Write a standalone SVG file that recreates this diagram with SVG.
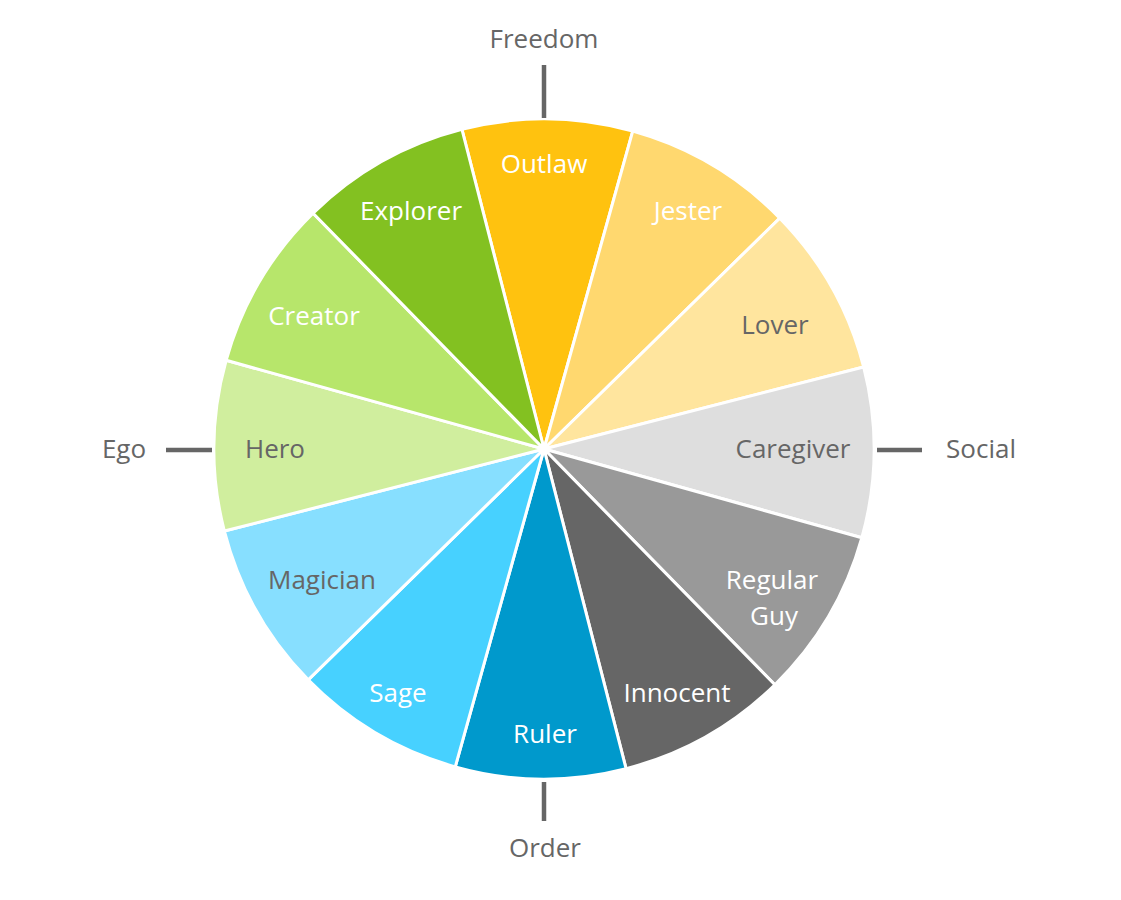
<svg xmlns="http://www.w3.org/2000/svg" width="1121" height="900" viewBox="0 0 1121 900">
<style>
  .w { stroke: #ffffff; stroke-width: 3; stroke-linejoin: round; }
  .t { font-family: "Open Sans", "Noto Sans", sans-serif; font-size: 26px; text-anchor: middle; }
  .lt { fill: #ffffff; }
  .dk { fill: #666666; }
  .tick { stroke: #666666; stroke-width: 4.5; }
</style>
<rect width="1121" height="900" fill="#ffffff"/>
<g id="wheel" transform="rotate(0.6 544 449)">
  <g id="outlaw"><path class="w" fill="#FFC20F" d="M544 449 L458.59 130.24 A330 330 0 0 1 629.41 130.24 Z"/></g>
  <g id="jester"><path class="w" fill="#FFD86F" d="M544 449 L629.41 130.24 A330 330 0 0 1 777.35 215.65 Z"/></g>
  <g id="lover"><path class="w" fill="#FFE59E" d="M544 449 L777.35 215.65 A330 330 0 0 1 862.76 363.59 Z"/></g>
  <g id="caregiver"><path class="w" fill="#DEDEDE" d="M544 449 L862.76 363.59 A330 330 0 0 1 862.76 534.41 Z"/></g>
  <g id="regularguy"><path class="w" fill="#999999" d="M544 449 L862.76 534.41 A330 330 0 0 1 777.35 682.35 Z"/></g>
  <g id="innocent"><path class="w" fill="#666666" d="M544 449 L777.35 682.35 A330 330 0 0 1 629.41 767.76 Z"/></g>
  <g id="ruler"><path class="w" fill="#0099CC" d="M544 449 L629.41 767.76 A330 330 0 0 1 458.59 767.76 Z"/></g>
  <g id="sage"><path class="w" fill="#47D1FF" d="M544 449 L458.59 767.76 A330 330 0 0 1 310.65 682.35 Z"/></g>
  <g id="magician"><path class="w" fill="#87DFFF" d="M544 449 L310.65 682.35 A330 330 0 0 1 225.24 534.41 Z"/></g>
  <g id="hero"><path class="w" fill="#D0EE9E" d="M544 449 L225.24 534.41 A330 330 0 0 1 225.24 363.59 Z"/></g>
  <g id="creator"><path class="w" fill="#B7E66B" d="M544 449 L225.24 363.59 A330 330 0 0 1 310.65 215.65 Z"/></g>
  <g id="explorer"><path class="w" fill="#83C121" d="M544 449 L310.65 215.65 A330 330 0 0 1 458.59 130.24 Z"/></g>
</g>
<g id="labels">
  <text class="t lt" x="544" y="173">Outlaw</text>
  <text class="t lt" x="688" y="220">Jester</text>
  <text class="t dk" x="775" y="334">Lover</text>
  <text class="t dk" x="793" y="458">Caregiver</text>
  <text class="t lt" x="772" y="589">Regular</text>
  <text class="t lt" x="774" y="625">Guy</text>
  <text class="t lt" x="677" y="702">Innocent</text>
  <text class="t lt" x="545" y="743">Ruler</text>
  <text class="t lt" x="398" y="702">Sage</text>
  <text class="t dk" x="322" y="589">Magician</text>
  <text class="t dk" x="275" y="458">Hero</text>
  <text class="t lt" x="314" y="325">Creator</text>
  <text class="t lt" x="411" y="220">Explorer</text>
</g>
<g id="connectors">
  <line class="tick" x1="544" y1="65" x2="544" y2="118"/>
  <line class="tick" x1="544" y1="782" x2="544" y2="821"/>
  <line class="tick" x1="166" y1="450" x2="212" y2="450"/>
  <line class="tick" x1="877" y1="450" x2="922" y2="450"/>
</g>
<g id="axes">
  <text class="t dk" x="544" y="48">Freedom</text>
  <text class="t dk" x="545" y="857">Order</text>
  <text class="t dk" x="124" y="458">Ego</text>
  <text class="t dk" x="981" y="458">Social</text>
</g>
</svg>
